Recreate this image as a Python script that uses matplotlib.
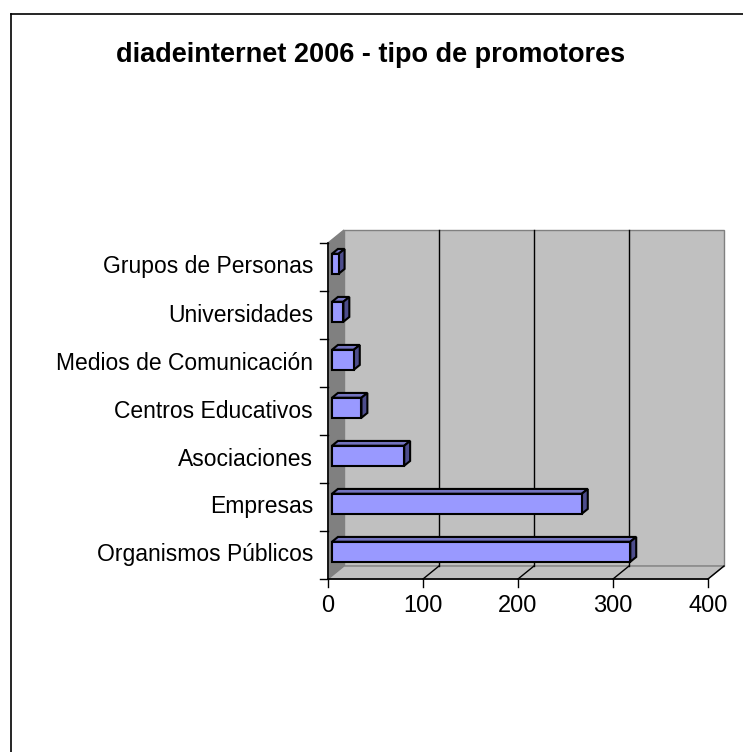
import matplotlib
matplotlib.use("Agg")
import matplotlib.pyplot as plt
from matplotlib.patches import Polygon
from matplotlib.lines import Line2D

# data (bottom to top)
categories = ["Organismos Públicos", "Empresas", "Asociaciones", "Centros Educativos",
              "Medios de Comunicación", "Universidades", "Grupos de Personas"]
values = [314, 263, 76, 31, 23, 12, 7]
x_ticks = [0, 100, 200, 300, 400]
title = "diadeinternet 2006 - tipo de promotores"

plt.rcParams['font.family'] = ['Liberation Sans', 'DejaVu Sans']

W, H = 743, 752
fig = plt.figure(figsize=(W / 100, H / 100), dpi=100)
fig.patch.set_facecolor('white')

# front plane of the plot area in pixels
left, right, bottom, top = 328, 708, 579, 243
ax = fig.add_axes([left / W, 1 - bottom / H, (right - left) / W, (bottom - top) / H])
ax.set_xlim(0, 400)
ax.set_ylim(-0.5, len(categories) - 0.5)
ax.axis('off')

# depth of the 3d box, in data units
px_x = (right - left) / 400.0
px_y = (bottom - top) / len(categories)
DX = 16 / px_x
DY = 13 / px_y
xmax = x_ticks[-1]
y0, y1 = -0.5, len(categories) - 0.5


def poly(pts, fc, ec, lw=1.0, z=1):
    p = Polygon(pts, closed=True, facecolor=fc, edgecolor=ec, linewidth=lw,
                clip_on=False, zorder=z, joinstyle='miter')
    ax.add_patch(p)


def line(xs, ys, c, lw=1.0, z=2):
    ax.add_line(Line2D(xs, ys, color=c, linewidth=lw, clip_on=False, zorder=z))


# walls and floor
poly([(DX, y0 + DY), (xmax + DX, y0 + DY), (xmax + DX, y1 + DY), (DX, y1 + DY)],
     '#c0c0c0', '#808080', 1.0, 1)
poly([(0, y0), (DX, y0 + DY), (DX, y1 + DY), (0, y1)], '#808080', '#808080', 1.0, 1)
poly([(0, y0), (xmax, y0), (xmax + DX, y0 + DY), (DX, y0 + DY)], '#c0c0c0', '#808080', 1.0, 1)

# gridlines on back wall and floor
for t in x_ticks[1:-1]:
    line([t + DX, t + DX], [y0 + DY, y1 + DY], 'black', 1.0, 2)
for t in x_ticks[1:]:
    line([t, t + DX], [y0, y0 + DY], 'black', 1.0, 2)

# axis lines and ticks
line([0, 0], [y0, y1], 'black', 1.2, 3)
line([0, xmax], [y0, y0], 'black', 1.2, 3)
tick_x = 8 / px_x
tick_y = 8 / px_y
for i in range(len(categories) + 1):
    line([-tick_x, 0], [y0 + i, y0 + i], 'black', 1.0, 3)
for t in x_ticks:
    line([t, t], [y0, y0 - tick_y], 'black', 1.0, 3)
    ax.text(t, y0 - 27 / px_y, str(t), ha='center', va='center', fontsize=17,
            clip_on=False)

for i, name in enumerate(categories):
    ax.text(-15 / px_x, i, name, ha='right', va='center', fontsize=16.5, clip_on=False)

# 3d bars
half = 10 / px_y
f0, f1 = 0.25, 0.62
for i, v in enumerate(values):
    ox, oy = f0 * DX, f0 * DY
    bx, by = (f1 - f0) * DX, (f1 - f0) * DY
    yb, yt = i - half + oy, i + half + oy
    xl, xr = ox, v + ox
    # top face
    poly([(xl, yt), (xr, yt), (xr + bx, yt + by), (xl + bx, yt + by)],
         '#7373bf', 'black', 1.5, 5)
    # side face
    poly([(xr, yb), (xr + bx, yb + by), (xr + bx, yt + by), (xr, yt)],
         '#4d4d8c', 'black', 1.5, 5)
    # front face
    poly([(xl, yb), (xr, yb), (xr, yt), (xl, yt)], '#9999ff', 'black', 1.5, 6)

fig.text(371 / W, 1 - 55 / H, title, ha='center', va='center', fontsize=19.5,
         fontweight='bold')

# chart border (left and top edges visible)
fig.add_artist(Line2D([10.5 / W, 10.5 / W], [0, 1 - 14 / H], color='black', linewidth=1.2,
                      transform=fig.transFigure))
fig.add_artist(Line2D([10.5 / W, 1], [1 - 14 / H, 1 - 14 / H], color='black', linewidth=1.2,
                      transform=fig.transFigure))

fig.savefig("out.png", dpi=100, facecolor='white')
